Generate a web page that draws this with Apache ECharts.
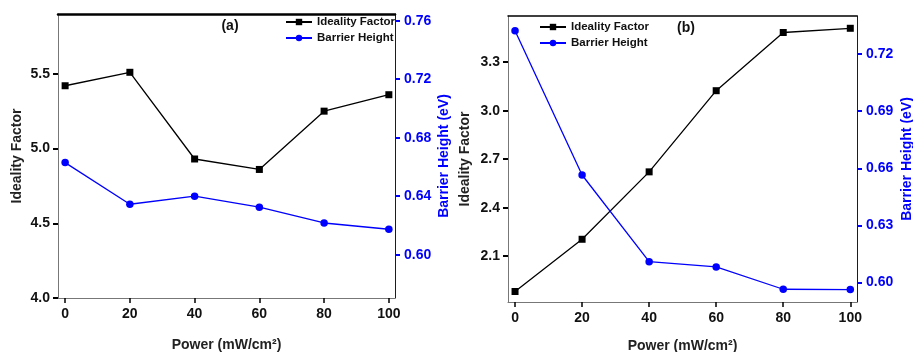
<!DOCTYPE html>
<html>
<head>
<meta charset="utf-8">
<script src="https://cdn.jsdelivr.net/npm/echarts@6/dist/echarts.min.js"></script>
<style>
  html, body { margin: 0; padding: 0; background: #fff; }
  #main { width: 913px; height: 352px; }
</style>
</head>
<body>
<div id="main"></div>
<script>
// 横轴: 光照功率
const power = [0, 20, 40, 60, 80, 100];
const powerTicks = [0, 20, 40, 60, 80, 100];

// (a) 面板数据
const idealityA = [5.42, 5.51, 4.93, 4.86, 5.25, 5.36];
const barrierA = [0.663, 0.6345, 0.640, 0.6325, 0.6217, 0.6174];
const idealTicksA = [4.0, 4.5, 5.0, 5.5];
const barrierTicksA = [0.60, 0.64, 0.68, 0.72, 0.76];

// (b) 面板数据
const idealityB = [1.882, 2.205, 2.622, 3.124, 3.484, 3.51];
const barrierB = [0.7323, 0.6565, 0.611, 0.6082, 0.5965, 0.5963];
const idealTicksB = [2.1, 2.4, 2.7, 3.0, 3.3];
const barrierTicksB = [0.60, 0.63, 0.66, 0.69, 0.72];

const FONT = 'Liberation Sans, Arial, sans-serif';
const BLUE = '#0000ff';

const pairs = (xs, ys) => xs.map((x, i) => [x, ys[i]]);

function xAxisFor(gridIndex, min, max, gap) {
  return {
    type: 'value', gridIndex, min, max,
    name: 'Power (mW/cm²)', nameLocation: 'middle', nameGap: gap,
    nameTextStyle: { fontFamily: FONT, fontWeight: 'bold', fontSize: 14, color: '#222' },
    axisLine: { onZero: false, lineStyle: { color: '#777', width: 1 } },
    axisTick: { length: 5, inside: false, lineStyle: { color: '#000', width: 1.5 }, customValues: powerTicks },
    axisLabel: { margin: 9, fontFamily: FONT, fontWeight: 'bold', fontSize: 14, color: '#111', customValues: powerTicks },
    splitLine: { show: false }
  };
}

// 顶部黑边
function topAxisFor(gridIndex, min, max, width) {
  return {
    type: 'value', gridIndex, min, max, position: 'top',
    axisLine: { onZero: false, lineStyle: { color: '#000', width } },
    axisTick: { show: false }, axisLabel: { show: false }, splitLine: { show: false }
  };
}

function leftAxisFor(gridIndex, min, max, ticks, decimals, gap) {
  return {
    type: 'value', gridIndex, min, max, position: 'left',
    name: 'Ideality Factor', nameLocation: 'middle', nameGap: gap,
    nameTextStyle: { fontFamily: FONT, fontWeight: 'bold', fontSize: 14, color: '#222' },
    axisLine: { show: true, onZero: false, lineStyle: { color: '#777', width: 1 } },
    axisTick: { show: true, length: 5, lineStyle: { color: '#000', width: 2 }, customValues: ticks },
    axisLabel: {
      margin: 8, fontFamily: FONT, fontWeight: 'bold', fontSize: 14, color: '#111',
      customValues: ticks, formatter: v => v.toFixed(decimals)
    },
    splitLine: { show: false }
  };
}

function rightAxisFor(gridIndex, min, max, ticks, gap) {
  return {
    type: 'value', gridIndex, min, max, position: 'right',
    name: 'Barrier Height (eV)', nameLocation: 'middle', nameGap: gap,
    nameTextStyle: { fontFamily: FONT, fontWeight: 'bold', fontSize: 14, color: BLUE },
    axisLine: { show: true, onZero: false, lineStyle: { color: BLUE, width: 1 } },
    axisTick: { show: true, length: 5, lineStyle: { color: BLUE, width: 2 }, customValues: ticks },
    axisLabel: {
      margin: 9, fontFamily: FONT, fontWeight: 'bold', fontSize: 14, color: BLUE,
      customValues: ticks, formatter: v => v.toFixed(2)
    },
    splitLine: { show: false }
  };
}

function idealSeries(xi, yi, data) {
  return {
    name: 'Ideality Factor', type: 'line', xAxisIndex: xi, yAxisIndex: yi,
    data, symbol: 'rect', symbolSize: 7, showSymbol: true,
    lineStyle: { color: '#000', width: 1.3 }, itemStyle: { color: '#000' },
    z: 3, animation: false
  };
}

function barrierSeries(xi, yi, data) {
  return {
    name: 'Barrier Height', type: 'line', xAxisIndex: xi, yAxisIndex: yi,
    data, symbol: 'circle', symbolSize: 7.5, showSymbol: true,
    lineStyle: { color: BLUE, width: 1.3 }, itemStyle: { color: BLUE },
    z: 3, animation: false
  };
}

const legendBase = {
  orient: 'vertical', itemWidth: 26, itemHeight: 8, itemGap: 4,
  textStyle: { fontFamily: FONT, fontWeight: 'bold', fontSize: 11.5, color: '#111' },
  data: ['Ideality Factor', 'Barrier Height']
};

const chart = echarts.init(document.getElementById('main'), null, { renderer: 'canvas' });
chart.setOption({
  animation: false,
  backgroundColor: '#fff',
  title: [
    { text: '(a)', left: 225, top: 14, textAlign: 'center',
      textStyle: { fontFamily: FONT, fontWeight: 'bold', fontSize: 14, color: '#111' } },
    { text: '(b)', left: 681, top: 16, textAlign: 'center',
      textStyle: { fontFamily: FONT, fontWeight: 'bold', fontSize: 14, color: '#111' } }
  ],
  legend: [
    Object.assign({}, legendBase, { left: 280, top: 11 }),
    Object.assign({}, legendBase, { left: 534, top: 16 })
  ],
  grid: [
    { left: 58, top: 14, width: 337, height: 284, outerBoundsMode: 'none', containLabel: false },
    { left: 508, top: 16, width: 349, height: 286, outerBoundsMode: 'none', containLabel: false }
  ],
  xAxis: [
    xAxisFor(0, -2.2, 101.9, 40),
    xAxisFor(1, -2.1, 102.0, 37),
    topAxisFor(0, -2.2, 101.9, 2.5),
    topAxisFor(1, -2.1, 102.0, 1.5)
  ],
  yAxis: [
    leftAxisFor(0, 4.0, 5.9, idealTicksA, 1, 34),
    rightAxisFor(0, 0.5704, 0.7646, barrierTicksA, 42),
    leftAxisFor(1, 1.817, 3.586, idealTicksB, 1, 36),
    rightAxisFor(1, 0.5898, 0.740, barrierTicksB, 43)
  ],
  series: [
    idealSeries(0, 0, pairs(power, idealityA)),
    barrierSeries(0, 1, pairs(power, barrierA)),
    idealSeries(1, 2, pairs(power, idealityB)),
    barrierSeries(1, 3, pairs(power, barrierB))
  ]
});
</script>
</body>
</html>
